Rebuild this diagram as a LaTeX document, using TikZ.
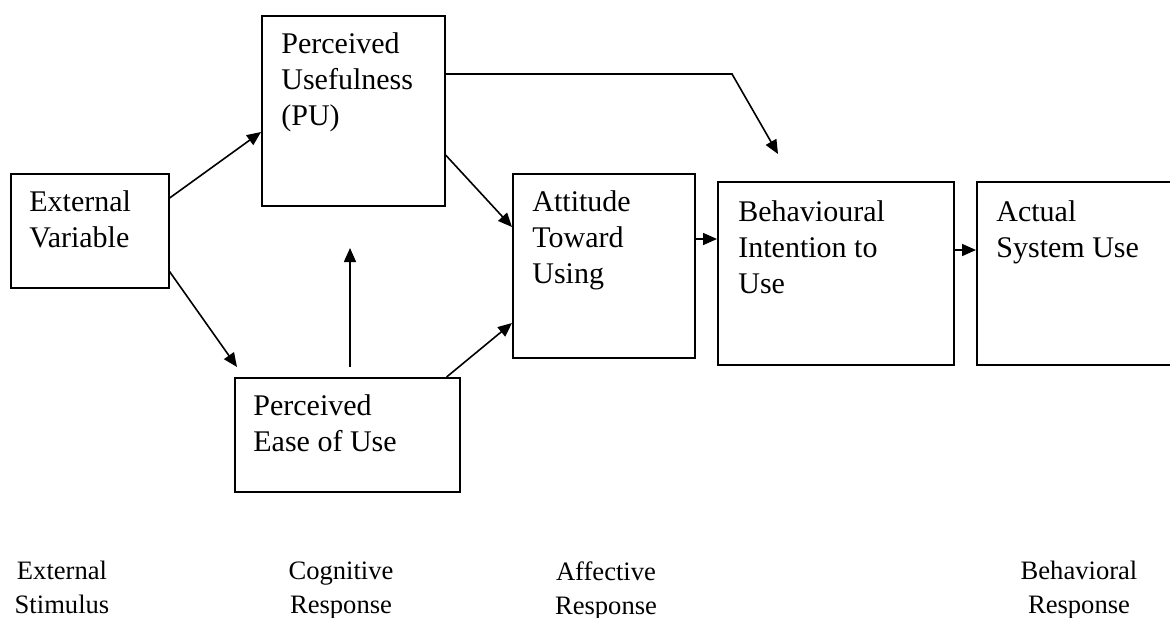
\documentclass[tikz,border=0pt]{standalone}
\usepackage{fontspec}
\setmainfont{Liberation Serif}
\usetikzlibrary{arrows.meta,calc}

\tikzset{
  box/.style={draw, line width=0.8pt, inner sep=0pt, anchor=north west},
  boxtext/.style={anchor=north west, inner sep=0pt, align=left, font=\fontsize{15}{18}\selectfont},
  tag/.style={anchor=north, inner sep=0pt, align=center, font=\fontsize{13.3}{17}\selectfont},
  link/.style={->, line width=0.8pt},
}

\begin{document}
\begin{tikzpicture}[x=0.5pt, y=-0.5pt, >={Triangle[length=7pt,width=6pt]}]
\useasboundingbox (0,0) rectangle (1170,617);

% the boxes
\node[box, minimum width=79pt, minimum height=57pt] (ev) at (10,173) {};
\node[box, minimum width=91.5pt, minimum height=95pt] (pu) at (261,15) {};
\node[box, minimum width=112.5pt, minimum height=57pt] (peou) at (234,377) {};
\node[box, minimum width=91pt, minimum height=92pt] (att) at (512,173) {};
\node[box, minimum width=118pt, minimum height=91.5pt] (bi) at (717,181) {};
\node[box, minimum width=99.5pt, minimum height=91.5pt] (act) at (976,181) {};

% texts in the boxes
\node[boxtext] (evtext) at ([shift={(19,17)}]ev.north west) {External\\Variable};
\node[boxtext] (putext) at ([shift={(20,17)}]pu.north west) {Perceived\\Usefulness\\(PU)};
\node[boxtext] (peoutext) at ([shift={(19,17)}]peou.north west) {Perceived\\Ease of Use};
\node[boxtext] (atttext) at ([shift={(20,17)}]att.north west) {Attitude\\Toward\\Using};
\node[boxtext] (bitext) at ([shift={(21,19)}]bi.north west) {Behavioural\\Intention to\\Use};
\node[boxtext] (acttext) at ([shift={(20,19)}]act.north west) {Actual\\System Use};

% free ends
\coordinate (eoutip) at (350,248);
\coordinate (bend) at (732,74);
\coordinate (putip) at (778,154);

% connectors
\draw[link] ([shift={(0,25)}]ev.north east) -- ([shift={(0,117)}]pu.north west);
\draw[link] ([shift={(0,-17)}]ev.south east) -- ([shift={(3,-10)}]peou.north west);
\draw[link] ($(eoutip |- peou.north)+(0,-10)$) -- (eoutip);
\draw[link] ([shift={(0,140)}]pu.north east) -- ([shift={(0,54)}]att.north west);
\draw[link] ([shift={(-14,0)}]peou.north east) -- ([shift={(0,150)}]att.north west);
\draw[link] ($(att.north east)+(0,66)$) coordinate (a1) -- (a1 -| bi.west);
\draw[link] ($(bi.north east)+(0,69)$) coordinate (b1) -- (b1 -| act.west);
\draw[link] ($(pu.north east)+(0,59)$) -- (bend) -- (putip);

% stages along the bottom
\node[tag] (stimulus) at (62,561) {External\\Stimulus};
\node[tag] (cognitive) at (341,561) {Cognitive\\Response};
\node[tag] (affective) at (606,561) {Affective\\Response};
\node[tag] (behavioral) at (1079,561) {Behavioral\\Response};
\end{tikzpicture}
\end{document}
